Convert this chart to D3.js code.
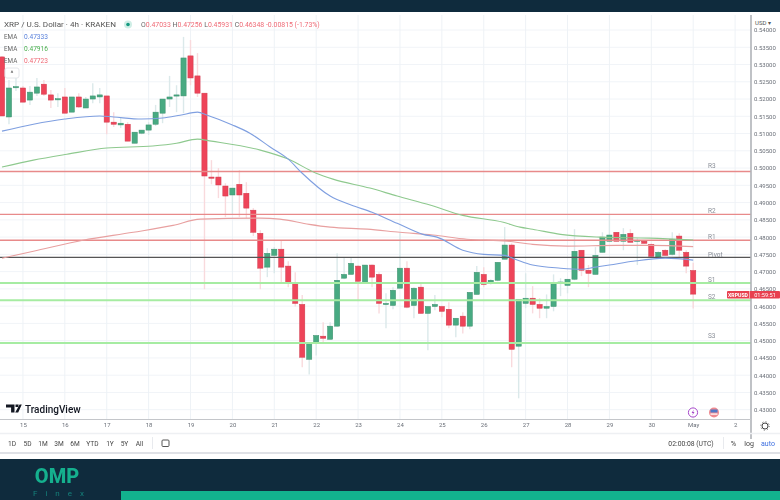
<!DOCTYPE html>
<html><head><meta charset="utf-8">
<script src="https://cdn.jsdelivr.net/npm/d3@7/dist/d3.min.js"></script>
<style>html,body{margin:0;padding:0;background:#fff}svg{display:block;font-family:Roboto,"Open Sans",sans-serif;filter:blur(.3px)}</style>
</head><body><svg id="c" width="780" height="500"></svg>
<script>
const opens=[.5322,.5148,.5233,.5232,.5197,.5217,.5243,.5212,.5200,.5206,.5162,.5206,.5174,.5200,.5206,.5209,.5133,.5125,.5127,.5072,.5101,.5110,.5127,.5159,.5200,.5209,.5209,.5325,.5267,.5217,.4974,.4974,.4948,.4922,.4953,.4927,.4878,.4811,.4713,.4747,.4765,.4716,.4669,.4605,.4446,.4492,.4513,.4504,.4542,.4681,.4692,.4716,.4669,.4719,.4692,.4605,.4602,.4652,.4710,.4602,.4655,.4579,.4599,.4599,.4591,.4545,.4571,.4542,.4634,.4692,.4666,.4675,.4736,.4777,.4484,.4608,.4623,.4605,.4594,.4599,.4668,.4660,.4678,.4762,.4704,.4692,.4756,.4788,.4814,.4788,.4811,.4788,.4788,.4779,.4742,.4762,.4750,.4803,.4756,.47033];
const highs=[.5325,.5255,.5261,.5238,.5238,.5261,.5255,.5226,.5217,.5232,.5206,.5217,.5206,.5246,.5232,.5209,.5162,.5148,.5133,.5104,.5110,.5133,.5183,.5200,.5267,.5240,.5380,.5371,.5333,.5217,.5023,.5000,.4956,.4942,.4994,.4959,.4884,.4820,.4768,.4771,.4791,.4730,.4698,.4632,.4492,.4515,.4553,.4553,.4753,.4742,.4742,.4719,.4719,.4721,.4698,.4637,.4655,.4811,.4730,.4655,.4669,.4599,.4632,.4602,.4611,.4565,.4582,.4640,.4716,.4713,.4678,.4727,.4829,.4782,.4620,.4695,.4658,.4623,.4634,.4692,.4681,.4678,.4823,.4762,.4719,.4771,.4814,.4864,.4814,.4826,.4823,.4797,.4791,.4782,.4759,.4765,.4814,.4811,.4762,.47256];
const lows=[.5151,.5127,.5223,.5191,.5183,.5209,.5209,.5174,.5177,.5159,.5162,.5174,.5174,.5188,.5188,.5098,.5119,.5116,.5078,.5072,.5098,.5096,.5122,.5130,.5177,.5162,.5159,.5240,.5206,.4649,.4953,.4913,.4858,.4866,.4858,.4855,.4803,.4649,.4684,.4695,.4666,.4655,.4599,.4423,.4402,.4457,.4495,.4504,.4540,.4678,.4692,.4614,.4669,.4655,.4579,.4536,.4591,.4652,.4594,.4565,.4579,.4472,.4588,.4568,.4536,.4510,.4521,.4533,.4634,.4655,.4663,.4672,.4736,.4423,.4333,.4594,.4579,.4565,.4565,.4585,.4629,.4637,.4675,.4687,.4655,.4692,.4756,.4788,.4788,.4762,.4785,.4719,.4782,.4742,.4742,.4747,.4747,.4739,.4695,.45931];
const closes=[.5151,.5232,.5236,.5191,.5220,.5235,.5214,.5197,.5201,.5159,.5206,.5177,.5200,.5209,.5212,.5133,.5127,.5130,.5078,.5104,.5110,.5125,.5162,.5200,.5206,.5212,.5319,.5261,.5217,.4977,.4971,.4951,.4919,.4942,.4922,.4884,.4814,.4710,.4753,.4765,.4713,.4669,.4608,.4452,.4492,.4515,.4507,.4542,.4675,.4692,.4724,.4672,.4719,.4684,.4608,.4608,.4646,.4710,.4597,.4652,.4579,.4599,.4605,.4585,.4545,.4565,.4542,.4640,.4698,.4663,.4675,.4727,.4777,.4475,.4620,.4623,.4605,.4594,.4599,.4669,.4670,.4678,.4759,.4704,.4695,.4747,.4800,.4806,.4788,.4808,.4785,.4791,.4782,.4744,.4756,.4747,.4794,.4762,.4716,.46348];
const dayLabels=["15","16","17","18","19","20","21","22","23","24","25","26","27","28","29","30","May","2"];
const dayIndex=[3,9,15,21,27,33,39,45,51,57,63,69,75,81,87,93,99,105];
const priceTicks=[.43,.435,.44,.445,.45,.455,.46,.465,.47,.475,.48,.485,.49,.495,.5,.505,.51,.515,.52,.525,.53,.535,.54];
const emaBlueIdx=[0,4.5,9,14,16,20,23,25.5,28,29.4,33,35.5,38.4,41,43,47,50,53,56.6,60.3,62.3,66,69,72,73.5,76,80,83,85,87,90.4,95,99];
const emaBlue=[.5107,.5127,.5142,.5151,.5148,.5142,.5145,.5153,.5162,.5153,.5125,.5101,.5061,.5026,.4985,.4919,.4893,.4872,.4840,.4808,.4800,.4762,.4750,.4747,.4736,.4719,.4710,.4707,.4713,.4719,.4730,.4739,.47333];
const emaGreenIdx=[0,4.5,9.3,15,21.6,25,28,30,37,41,45,47.4,52.7,56.6,61.3,66,71.8,74.2,76,80,85.7,92.8,99];
const emaGreen=[.5003,.5023,.5040,.5058,.5064,.5072,.5084,.5078,.5052,.5026,.4985,.4968,.4942,.4919,.4893,.4863,.4843,.4829,.4823,.4808,.4800,.4797,.47916];
const emaRedIdx=[0,4.5,11.6,18.8,24.5,28.4,37,39.8,44,47,52.3,57,61.7,66.6,72.4,76,81,88,92.8,99];
const emaRed=[.4739,.4759,.4791,.4814,.4834,.4852,.4855,.4852,.4837,.4829,.4823,.4814,.4806,.4794,.4788,.4779,.4774,.4776,.4776,.47723];
const levelNames=["R3","R2","R1","Pivot","S1","S2","S3"];
const levelValues=[.4990,.4866,.4791,.4741,.4667,.4617,.4493];
const rangeButtons=["1D","5D","1M","3M","6M","YTD","1Y","5Y","All"];

const svg=d3.select("#c");
const x=d3.scaleLinear().domain([0,99]).range([2,693.2]);
const y=d3.scaleLinear().domain([.43,.54]).range([409.7,30]);
const W=751,AX=419.5;
const txt=(px,py,s,size,fill,anchor="start",weight=400)=>svg.append("text").attr("x",px).attr("y",py).attr("font-size",size).attr("fill",fill).attr("text-anchor",anchor).attr("font-weight",weight).text(s);

// frame
svg.append("rect").attr("width",780).attr("height",12).attr("fill","#0f2b3d");
// grid
svg.append("g").selectAll("line").data(priceTicks).join("line").attr("x1",0).attr("x2",W).attr("y1",d=>y(d)).attr("y2",d=>y(d)).attr("stroke","#f1f4f8");
svg.append("g").selectAll("line").data(dayIndex).join("line").attr("x1",d=>x(d)).attr("x2",d=>x(d)).attr("y1",15).attr("y2",AX).attr("stroke","#eef2f6");
// candles
const idx=d3.range(opens.length);
const isUp=i=>closes[i]>=opens[i];
const g=svg.append("g");
g.selectAll(".w").data(idx).join("line").attr("x1",i=>x(i)).attr("x2",i=>x(i)).attr("y1",i=>y(highs[i])).attr("y2",i=>y(lows[i])).attr("stroke-width",1.4).attr("stroke",i=>isUp(i)?"#dbe9ea":"#f9dadd");
g.selectAll(".b").data(idx).join("rect").attr("x",i=>x(i)-2.6).attr("width",5.2).attr("y",i=>Math.min(y(opens[i]),y(closes[i]))).attr("height",i=>Math.max(1.2,Math.abs(y(opens[i])-y(closes[i])))).attr("fill",i=>isUp(i)?"#48aa82":"#ee4459").attr("stroke",i=>isUp(i)?"#3c8f6d":"#cf3a4c").attr("stroke-width",.5);
// levels
const lvlColor=["#e88a8a","#e88a8a","#e88a8a","#555","#a6ecA2","#a6ecA2","#a6ecA2"];
svg.append("g").selectAll("line").data(levelValues).join("line").attr("x1",0).attr("x2",W).attr("y1",d=>y(d)).attr("y2",d=>y(d)).attr("stroke",(d,i)=>lvlColor[i]).attr("stroke-width",(d,i)=>i>3?2:i==3?1.2:1.4);
const lblY=[168,213,239,257,282,299,338];
levelNames.forEach((n,i)=>txt(708,lblY[i],n,6.5,"#8a8f98"));
// EMAs
const ln=(ix,v,c)=>svg.append("path").attr("fill","none").attr("stroke",c).attr("stroke-width",1.1).attr("d",d3.line().x(d=>x(d[0])).y(d=>y(d[1])).curve(d3.curveMonotoneX)(ix.map((a,i)=>[a,v[i]])));
ln(emaRedIdx,emaRed,"#e8a0a0");
ln(emaGreenIdx,emaGreen,"#8ec98e");
ln(emaBlueIdx,emaBlue,"#7f9fe0");
// price axis
const ya=svg.append("g").attr("transform",`translate(${W},0)`).call(d3.axisRight(y).tickValues(priceTicks).tickSize(0).tickPadding(3).tickFormat(d3.format(".5f")));
ya.select(".domain").remove();
ya.selectAll("text").attr("font-size",6).attr("fill","#6a6f78").attr("font-family","Roboto,sans-serif");
svg.append("line").attr("x1",W).attr("x2",W).attr("y1",15).attr("y2",439).attr("stroke","#b0b3b8").attr("stroke-width",1.6);
svg.append("rect").attr("x",753).attr("y",15).attr("width",27).attr("height",12).attr("fill","#fff");
txt(755,24.5,"USD ▾",6,"#555");
// time axis
const xa=svg.append("g").attr("transform",`translate(0,${AX})`).call(d3.axisBottom(x).tickValues(dayIndex).tickSize(0).tickPadding(3).tickFormat((d,i)=>dayLabels[i]));
xa.select(".domain").remove();
xa.selectAll("text").attr("font-size",6).attr("fill","#6a6f78").attr("font-family","Roboto,sans-serif");
svg.append("line").attr("x1",0).attr("x2",W).attr("y1",AX).attr("y2",AX).attr("stroke","#c4c6ca").attr("stroke-width",1.2);
svg.append("line").attr("x1",0).attr("x2",780).attr("y1",433.5).attr("y2",433.5).attr("stroke","#eef0f3").attr("stroke-width",1.5);
svg.append("line").attr("x1",0).attr("x2",780).attr("y1",453).attr("y2",453).attr("stroke","#dfe1e6").attr("stroke-width",2);
// header legend
txt(4,27,"XRP / U.S. Dollar · 4h · KRAKEN",8.1,"#555");
svg.append("circle").attr("cx",128).attr("cy",24.5).attr("r",4).attr("fill","#cfeee6");
svg.append("circle").attr("cx",128).attr("cy",24.5).attr("r",1.8).attr("fill","#159a80");
const hdr=txt(141,27,"",6.9,"#ef6a76");
[["O","#666"],["0.47033 ","#ef6a76"],["H","#666"],["0.47256 ","#ef6a76"],["L","#666"],["0.45931 ","#ef6a76"],["C","#666"],["0.46348 ","#ef6a76"],["-0.00815 (-1.73%)","#ef6a76"]].forEach(p=>hdr.append("tspan").attr("fill",p[1]).text(p[0]));
[["0.47333","#5b83dc",39],["0.47916","#4cb050",51],["0.47723","#ef6a76",63]].forEach(r=>{
  txt(4,r[2],"EMA",6.3,"#666");
  txt(24,r[2],r[0],6.6,r[1]);
});
svg.append("rect").attr("x",5).attr("y",68).attr("width",14).attr("height",10).attr("rx",2).attr("fill","#fff").attr("stroke","#e4e6ea");
txt(12,76,"^",7,"#444","middle");
// logo
svg.append("path").attr("fill","#131722").attr("d","M6 404.5h8.5v8h-3.4v-5h-5.1zM15.5 404.5h3.2l-0.6 2.4h-2.6zM19.6 404.5h2.2l-3.6 8h-3z");
txt(25,412.5,"TradingView",10,"#131722","start",500);
// events
svg.append("circle").attr("cx",693).attr("cy",412.5).attr("r",4.6).attr("fill","#fff").attr("stroke","#a445c8").attr("stroke-width",1);
svg.append("path").attr("fill","#a445c8").attr("d","M693.8 409.5l-2.2 3.4h1.4l-.8 2.7 2.3-3.5h-1.4z");
svg.append("circle").attr("cx",714).attr("cy",412.5).attr("r",5).attr("fill","#ef8a90");
svg.append("rect").attr("x",710.5).attr("y",409.5).attr("width",7).attr("height",3).attr("fill","#4f78c8");
svg.append("rect").attr("x",710.5).attr("y",413.5).attr("width",7).attr("height",1.2).attr("fill","#fff");
// price tag
svg.append("rect").attr("x",727).attr("y",291).attr("width",53).attr("height",7.6).attr("rx",1).attr("fill","#e8404f");
svg.append("rect").attr("x",749).attr("y",291).attr("width",1).attr("height",7.6).attr("fill","#f4a5ad");
txt(738,297,"XRPUSD",5.2,"#fff","middle",700);
txt(765,297,"01:59:51",5.6,"#fff","middle");
// gear
svg.append("circle").attr("cx",765).attr("cy",426).attr("r",3).attr("fill","none").attr("stroke","#444").attr("stroke-width",1);
svg.append("circle").attr("cx",765).attr("cy",426).attr("r",4.2).attr("fill","none").attr("stroke","#444").attr("stroke-width",.8).attr("stroke-dasharray","1.2 2.1");
// bottom row
const btnX=[12,27.5,43,59,75,92.5,110,124.5,139.5];
rangeButtons.forEach((b,i)=>txt(btnX[i],445.5,b,6.6,"#444","middle"));
svg.append("line").attr("x1",152.5).attr("x2",152.5).attr("y1",437).attr("y2",449).attr("stroke","#e8eaee");
svg.append("rect").attr("x",162).attr("y",440).attr("width",7).attr("height",6.5).attr("rx",1).attr("fill","none").attr("stroke","#555").attr("stroke-width",1);
txt(691,445.5,"02:00:08 (UTC)",6.8,"#444","middle");
svg.append("line").attr("x1",723.5).attr("x2",723.5).attr("y1",437).attr("y2",449).attr("stroke","#e8eaee");
txt(733.5,445.5,"%",7.5,"#444","middle");
txt(749,445.5,"log",7,"#444","middle");
txt(768,445.5,"auto",7,"#3d6fe0","middle");
// footer
svg.append("rect").attr("y",459).attr("width",780).attr("height",41).attr("fill","#0f2b3d");
svg.append("rect").attr("x",121).attr("y",491).attr("width",659).attr("height",9).attr("fill","#12b28e");
txt(57,483,"OMP",20,"#15b08e","middle",800);
txt(33,495.5,"Finex",8,"#15807a","start").attr("letter-spacing",8);
</script></body></html>
